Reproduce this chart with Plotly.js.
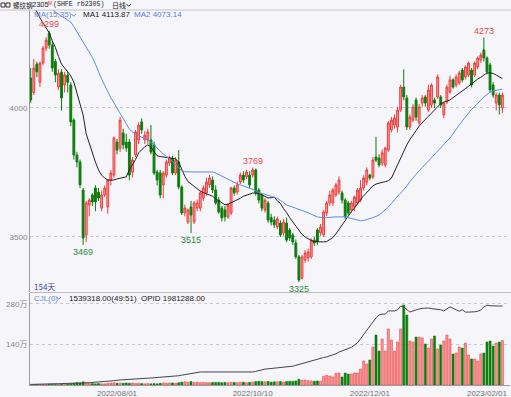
<!DOCTYPE html>
<html><head><meta charset="utf-8">
<script src="https://cdn.plot.ly/plotly-3.0.1.min.js"></script>
<style>html,body{margin:0;padding:0;background:#f5f5fa;}#chart{width:511px;height:397px;}</style>
</head><body><div id="chart"></div>
<script>
// ---- calendar (categories) ----
const startDate = '2022-06-22';
const holidays = ['2022-09-12','2022-10-03','2022-10-04','2022-10-05','2022-10-06','2022-10-07',
  '2023-01-02','2023-01-23','2023-01-24','2023-01-25','2023-01-26','2023-01-27'];
const dayCount = 154;
function tradingDays(start, n){
  const out=[]; let d=new Date(start+'T00:00:00Z');
  while(out.length<n){
    const iso=d.toISOString().slice(0,10), wd=d.getUTCDay();
    if(wd!==0&&wd!==6&&holidays.indexOf(iso)<0) out.push(iso.replace(/-/g,'/'));
    d=new Date(d.getTime()+86400000);
  }
  return out;
}
const dates = tradingDays(startDate, dayCount);

// ---- OHLC ----
const open = [4116,4060,4170,4100,4174,4232,4290,4244,4180,4081,
4139,4089,4128,4089,3953,3818,3791,3682,3508,3624,
3663,3690,3674,3612,3663,3616,3721,3740,3868,3845,
3903,3868,3868,3752,3818,3876,3946,3876,3876,3876,
3857,3752,3748,3702,3740,3787,3806,3748,3791,3694,
3593,3558,3616,3558,3612,3612,3651,3671,3702,3721,
3682,3643,3612,3605,3578,3593,3690,3674,3713,3740,
3733,3740,3740,3760,3682,3663,3605,3632,3575,3565,
3539,3554,3516,3554,3527,3508,3477,3423,3340,3411,
3419,3423,3488,3527,3516,3508,3593,3632,3632,3663,
3674,3671,3643,3632,3605,3616,3632,3643,3690,3713,
3740,3733,3810,3806,3787,3779,3837,3915,3934,3926,
3992,4081,4039,3926,3953,4031,3942,4019,4043,3992,
4012,4031,4043,4043,3973,4023,4062,4109,4089,4097,
4147,4120,4128,4147,4128,4159,4186,4225,4194,4167,
4089,4019,4050,4000];
const high = [4155,4190,4180,4180,4240,4275,4299,4260,4190,4150,
4150,4140,4140,4100,3960,3830,3800,3690,3640,3650,
3670,3700,3690,3680,3700,3725,3760,3890,3880,3965,
3920,3900,3880,3810,3915,3945,3960,3910,3920,3934,
3870,3760,3760,3755,3800,3815,3815,3810,3837,3700,
3625,3610,3640,3640,3645,3680,3700,3730,3740,3735,
3700,3655,3620,3620,3630,3695,3700,3715,3750,3755,
3760,3755,3769,3765,3690,3670,3650,3640,3590,3580,
3580,3565,3570,3575,3535,3515,3490,3430,3430,3450,
3455,3495,3500,3535,3550,3605,3640,3680,3690,3710,
3735,3680,3650,3640,3640,3660,3690,3720,3740,3770,
3745,3810,3888,3820,3840,3850,3950,3965,3975,4005,
4090,4150,4050,3975,4015,4040,4015,4050,4050,4090,
4095,4040,4130,4050,4025,4090,4125,4115,4130,4145,
4155,4165,4180,4155,4180,4200,4215,4273,4200,4175,
4100,4060,4060,4060];
const low = [4020,4050,4120,4081,4165,4220,4230,4140,4100,4070,
3990,4060,4060,3930,3800,3770,3690,3469,3480,3580,
3620,3600,3640,3600,3655,3590,3700,3730,3820,3830,
3840,3830,3720,3730,3810,3860,3900,3860,3860,3820,
3740,3700,3650,3650,3730,3775,3740,3740,3685,3585,
3580,3550,3515,3550,3600,3600,3640,3660,3690,3670,
3625,3590,3560,3560,3570,3585,3660,3665,3705,3710,
3725,3690,3730,3660,3630,3600,3595,3555,3545,3535,
3530,3500,3505,3480,3485,3470,3415,3325,3335,3400,
3405,3415,3465,3470,3505,3500,3580,3620,3620,3655,
3665,3630,3570,3585,3595,3600,3625,3635,3680,3700,
3720,3725,3790,3770,3775,3770,3830,3905,3920,3905,
3985,4030,3915,3915,3945,3950,3935,4005,4005,3985,
4000,4000,4035,4000,3960,4015,4055,4075,4080,4090,
4100,4110,4120,4080,4120,4150,4175,4180,4130,4060,
4040,3990,3975,3980];
const close = [4031,4155,4140,4174,4232,4263,4244,4155,4128,4135,
4039,4128,4100,3946,3818,3791,3702,3496,3632,3643,
3636,3636,3651,3663,3690,3721,3748,3884,3837,3953,
3857,3845,3740,3798,3907,3934,3915,3895,3907,3829,
3748,3721,3663,3748,3791,3806,3748,3798,3694,3593,
3612,3605,3585,3632,3632,3671,3690,3713,3729,3682,
3632,3597,3574,3578,3624,3690,3671,3702,3740,3721,
3752,3702,3760,3671,3643,3612,3643,3566,3558,3547,
3570,3508,3558,3488,3496,3481,3423,3333,3423,3438,
3442,3488,3477,3481,3539,3597,3632,3663,3682,3702,
3721,3643,3578,3593,3632,3655,3682,3690,3729,3760,
3729,3798,3798,3779,3826,3845,3942,3953,3961,3992,
4081,4043,3926,3965,4004,3965,4004,4039,4019,4070,
4089,4019,4120,4012,4019,4081,4109,4081,4120,4136,
4109,4159,4174,4089,4174,4194,4205,4194,4140,4070,
4050,4050,4012,4050];

// ---- moving averages MA(15), MA(35) ----
const ma1 = [4420,4395,4370,4349,4330,4310,4291,4260,4235,4200,
4170,4155,4142,4125,4100,4060,4010,3973,3900,3860,
3820,3790,3760,3740,3728,3721,3720,3721,3725,3728,
3730,3733,3760,3780,3800,3826,3840,3850,3857,3850,
3830,3815,3812,3810,3808,3806,3805,3803,3790,3760,
3735,3715,3705,3695,3685,3678,3672,3668,3663,3658,
3648,3640,3632,3625,3627,3632,3638,3643,3650,3658,
3662,3668,3670,3670,3668,3663,3656,3651,3652,3655,
3640,3630,3610,3595,3575,3558,3540,3522,3510,3500,
3492,3487,3482,3481,3481,3481,3482,3490,3498,3512,
3530,3545,3565,3580,3598,3612,3630,3645,3660,3674,
3686,3698,3705,3710,3712,3714,3718,3728,3755,3780,
3810,3835,3857,3878,3893,3912,3930,3944,3957,3968,
3980,3992,4005,4017,4022,4026,4031,4040,4048,4058,
4066,4075,4084,4094,4104,4112,4119,4128,4136,4136,
4134,4128,4122,4114];
const ma2 = [4440,4432,4425,4418,4410,4400,4390,4380,4372,4364,
4357,4350,4341,4333,4315,4295,4275,4255,4240,4218,
4196,4170,4140,4112,4088,4063,4039,4020,3999,3978,
3956,3935,3918,3908,3898,3893,3888,3882,3876,3866,
3858,3845,3832,3822,3812,3805,3792,3780,3765,3757,
3753,3752,3752,3752,3752,3752,3752,3752,3752,3752,
3748,3742,3735,3727,3721,3715,3710,3706,3702,3698,
3694,3689,3684,3680,3673,3669,3666,3663,3659,3655,
3650,3642,3632,3624,3620,3616,3612,3607,3602,3598,
3594,3588,3582,3578,3576,3574,3575,3577,3578,3578,
3578,3578,3578,3575,3572,3570,3566,3563,3564,3567,
3570,3575,3580,3585,3595,3605,3616,3630,3645,3658,
3670,3682,3698,3715,3730,3745,3757,3769,3782,3795,
3808,3820,3830,3845,3858,3872,3884,3900,3918,3935,
3950,3965,3980,3995,4005,4018,4032,4043,4052,4062,
4066,4070,4071,4073];

// ---- volume and open interest, in 万 ----
const volume = [1,1,2,2,2,2.5,3,2.5,2,3,
3,2.5,3,4,6,8,7,11,7,5,
5,4,5,4,4,6,7,8,6,7,
6,7,6,7,5,6,5,4,5,4,
5,4,6,7,6,7,7,6,8,10,
11,10,12,9,10,8,9,8,8,9,
9,9,8,9,8,9,9,8,9,10,
8,9,10,12,13,12,11,12,10,11,
11,12,10,12,13,13,14,20,16,17,
15,14,13,14,13,30,33,31,28,40,
41.5,27.7,41.5,38,38,41.5,41.5,55.3,83,72.6,
86.4,131.3,172.8,117.5,159,117.5,193.6,155.5,117.5,148.6,
193.6,276.5,242,152.1,148.6,165.9,165.9,162.5,141.7,127.9,
159,169.4,124.4,138.3,152.1,172.8,159,107.2,110.6,131.3,
127.9,145.2,103.7,89.9,89.9,83,107.2,110.6,148.6,152.1,
134.8,145.2,148.6,153.93];
const openInterest = [2,2,2.5,3,3.5,
3.5,4,4,4.5,4.5,5,5,5.5,6,6,6.5,7,7,
7.5,8,8.5,9,10,11,12,13,14,15,17,
17.5,18,18.5,19,19.5,20,21,22,23,24,
24.5,25,26,26.5,27,28,29,30,31,
32,34,36,38,40,42,44,45,
45,45,45,45,45,45,44,44,45,45,45,45,45,44,45,45,45,
47,50,53,55,
56,57,58,59,60,61,62,62,
65,68,71,75,79,
82,85,88,90,93,95,97,
100,104,108,114,
118,122,126,130,138,146,
160,175,190,205,218,
232,242,245,245,256,
256,256,260,273,270,
262,252,256,260,263,
265,266,266,264,263,
263,260,256,262,270,
265,259,255,260,252,
252,252,253,255,259,
270,276,274,273,273,273,273];

const dateTicks = ['2022/08/01','2022/10/10','2022/12/01','2023/02/01'];
const priceTicks = [3500, 4000];
const volTicks = [140, 280];
const volTickText = ['140万','280万'];
const markIdx = [6, 17, 52, 72, 87, 147];
const markKind = ['high','low','low','high','low','high'];

// ---- layout helpers ----
const W=511,H=397,L=30,R=1,T=10,B=12;
const px = x => (x-L)/(W-L-R);
const py = y => (H-B-y)/(H-T-B);
const xs = dates.map((d,i)=>i);
const UP='#f03c3c', UPFILL='#f59c9c', DN='#0b7d0b';
const NUM='Liberation Sans, Arial, sans-serif';
const CJK='Noto Sans CJK SC, sans-serif';

const traces = [
 {type:'candlestick', x:xs, open, high, low, close, xaxis:'x', yaxis:'y',
  increasing:{line:{color:UP,width:1}, fillcolor:UPFILL},
  decreasing:{line:{color:DN,width:1}, fillcolor:DN},
  whiskerwidth:0, hoverinfo:'skip', showlegend:false},
 {type:'scatter', mode:'lines', x:xs, y:ma1, line:{color:'#222',width:1}, yaxis:'y', hoverinfo:'skip', showlegend:false},
 {type:'scatter', mode:'lines', x:xs, y:ma2, line:{color:'#5b8de6',width:1}, yaxis:'y', hoverinfo:'skip', showlegend:false},
 {type:'bar', x:xs, y:volume, yaxis:'y2',
  marker:{color:close.map((c,i)=>c>=open[i]?UPFILL:DN), line:{color:close.map((c,i)=>c>=open[i]?UP:DN), width:0.6}},
  hoverinfo:'skip', showlegend:false},
 {type:'scatter', mode:'lines', x:xs, y:openInterest, yaxis:'y2', line:{color:'#444',width:1}, hoverinfo:'skip', showlegend:false}
];

function txt(x,y,text,color,size,family,anchor){
  return {xref:'paper',yref:'paper',x:px(x),y:py(y),text:text,showarrow:false,
    xanchor:anchor||'left',yanchor:'middle',font:{size:size,color:color,family:family||NUM},borderpad:0};
}
const annotations = [
  txt(12,5,'螺纹钢','#222',6.5,CJK),
  txt(31,5,'2305','#222',7.5,NUM),
  txt(46.5,3,'M','#e03030',5,NUM),
  txt(52,5,'(SHFE rb2305)','#222',6.6,'Liberation Mono, monospace'),
  txt(111,5,'日线','#222',7,CJK),
  txt(33,15,'MA(15,35)','#6a87d8',8,NUM),
  txt(82,15,'MA1 4113.87','#222',8,NUM),
  txt(133,15,'MA2 4073.14','#5a7fd8',8,NUM),
  txt(33,286,dates.length+'天','#3f3fa8',8,CJK),
  txt(33,298,'CJL(0)','#6a87d8',8,NUM),
  txt(68,298,'1539318.00(49:51)','#222',8,NUM),
  txt(140,298,'OPID 1981288.00','#222',8,NUM)
];
markIdx.forEach((i,k)=>{
  const hi = markKind[k]==='high';
  const v = hi?high[i]:low[i];
  annotations.push({xref:'x',yref:'y',x:i,y:v,text:String(v),showarrow:false,
    xanchor:'center',yanchor:hi?'bottom':'top',yshift:hi?1:-1,borderpad:0,
    font:{size:9,color:hi?'#f04a4a':'#2f8a3a',family:NUM}});
});

function chevron(x,y){
  return {type:'path',xref:'paper',yref:'paper',
    path:`M ${px(x)} ${py(y)} L ${px(x+2.2)} ${py(y+2.2)} L ${px(x+4.4)} ${py(y)}`,
    line:{color:'#6a87d8',width:1}};
}
const headChev = chevron(126.5,4); headChev.line = {color:'#333',width:1};
const shapes = [
  {type:'line',xref:'paper',yref:'paper',x0:px(0),x1:px(511),y0:py(10),y1:py(10),line:{color:'#c4c4cc',width:1}},
  {type:'line',xref:'paper',yref:'paper',x0:px(30),x1:px(511),y0:py(292.5),y1:py(292.5),line:{color:'#bdbdc5',width:1}},
  {type:'rect',xref:'paper',yref:'paper',x0:px(1),x1:px(5),y0:py(3),y1:py(7),line:{color:'#333',width:1}},
  {type:'rect',xref:'paper',yref:'paper',x0:px(6),x1:px(10),y0:py(3),y1:py(7),line:{color:'#333',width:1}},
  headChev,
  chevron(71.5,14),
  chevron(56.5,297)
];

const axisCommon = {showline:true, linecolor:'#9a9aa2', linewidth:1, ticks:'', zeroline:false,
  tickfont:{size:8,color:'#888',family:NUM}, fixedrange:true};
const layout = {
  width:W, height:H, margin:{l:L,r:R,t:T,b:B}, paper_bgcolor:'#f5f5fa', plot_bgcolor:'#f5f5fa',
  showlegend:false, boxgap:0.4, boxgroupgap:0, bargap:0.35, dragmode:false,
  xaxis:Object.assign({}, axisCommon, {range:[-0.23,155.47], tickvals:dateTicks.map(d=>dates.indexOf(d)),
    ticktext:dateTicks, showgrid:false, anchor:'y2', rangeslider:{visible:false},
    tickfont:{size:8,color:'#707078',family:NUM}}),
  yaxis:Object.assign({}, axisCommon, {domain:[py(292),1], range:[3286.8,4379.8], tickvals:priceTicks,
    showgrid:true, gridcolor:'#c9c9cf', griddash:'dot', anchor:'x'}),
  yaxis2:Object.assign({}, axisCommon, {domain:[0,py(293)], range:[0,318], tickvals:volTicks, ticktext:volTickText,
    showgrid:true, gridcolor:'#c9c9cf', griddash:'dot', anchor:'x',
    tickfont:{size:8,color:'#888',family:'Liberation Sans, Noto Sans CJK SC, sans-serif'}}),
  annotations, shapes
};
Plotly.newPlot('chart', traces, layout, {staticPlot:true, displayModeBar:false});
</script></body></html>
